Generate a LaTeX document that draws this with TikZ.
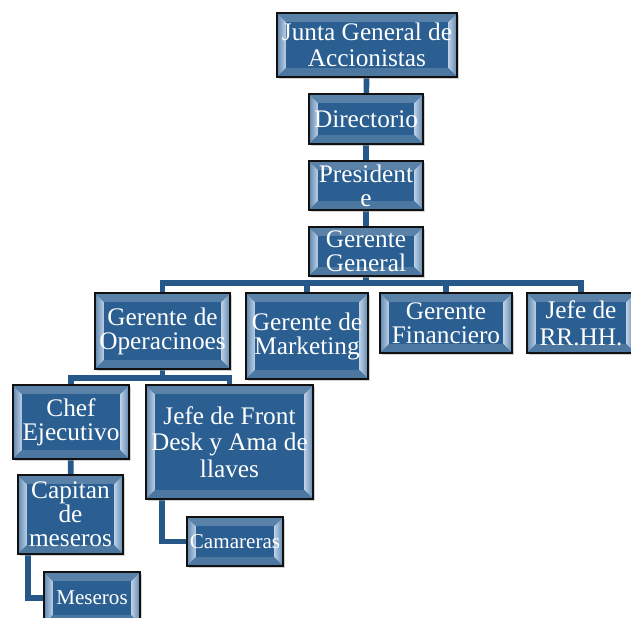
\documentclass[tikz,border=0pt]{standalone}
\usepackage{fontspec}
\setmainfont{Liberation Serif}
\usepackage{xcolor}
\definecolor{boxc}{HTML}{2B5F91}
\definecolor{bevc}{HTML}{BCD0E6}
\definecolor{conc}{HTML}{27588A}
\definecolor{edgec}{HTML}{111111}
\usetikzlibrary{calc,backgrounds,shadows}
\newcommand{\bevw}{0.22}
\tikzset{
  bevel/.style={path picture={
    \coordinate (sw) at (path picture bounding box.south west);
    \coordinate (ne) at (path picture bounding box.north east);
    \shade[left color=boxc!75!white,right color=bevc] (sw) -- ($(sw)+(\bevw,\bevw)$) -- ($(sw|-ne)+(\bevw,-\bevw)$) -- (sw|-ne) -- cycle;
    \shade[left color=bevc,right color=boxc!75!white] (ne) -- ($(ne)+(-\bevw,-\bevw)$) -- ($(ne|-sw)+(-\bevw,\bevw)$) -- (ne|-sw) -- cycle;
    \fill[boxc!78!white] (sw|-ne) -- (ne) -- ($(ne)+(-\bevw,-\bevw)$) -- ($(sw|-ne)+(\bevw,-\bevw)$) -- cycle;
    \fill[boxc!85!white] (sw) -- (ne|-sw) -- ($(ne|-sw)+(-\bevw,\bevw)$) -- ($(sw)+(\bevw,\bevw)$) -- cycle;
  }},
  unit/.style={draw=edgec,line width=1.1pt,fill=boxc,bevel,text=white,align=center,inner sep=0pt,
    font=\fontsize{18}{17}\selectfont,
    drop shadow={shadow xshift=1.5pt,shadow yshift=-1.5pt,fill=black!35}},
  sunit/.style={unit,font=\fontsize{15}{15}\selectfont},
  conn/.style={draw=conc,line width=4pt},
}

\begin{document}
\begin{tikzpicture}
  \useasboundingbox (0,0) rectangle (15.775,-15.425);
  % direccion
  \node[unit,minimum width=4.5cm,minimum height=1.6cm,font=\fontsize{18}{18.5}\selectfont] (junta) at (9.175,-1.125) {Junta General de\\Accionistas};
  \node[unit,minimum width=2.85cm,minimum height=1.25cm] (dir) at (9.15,-2.975) {Directorio};
  \node[unit,minimum width=2.85cm,minimum height=1.225cm] (pres) at (9.15,-4.6375) {President\\e};
  \node[unit,minimum width=2.85cm,minimum height=1.225cm] (gg) at (9.15,-6.2875) {Gerente\\General};
  % gerencias
  \node[unit,minimum width=3.375cm,minimum height=1.9cm] (ops) at (4.0625,-8.275) {Gerente de\\Operacinoes};
  \node[unit,minimum width=3.05cm,minimum height=2.15cm] (mkt) at (7.675,-8.4) {Gerente de\\Marketing};
  \node[unit,minimum width=3.3cm,minimum height=1.5cm] (fin) at (11.15,-8.075) {Gerente\\Financiero};
  \node[unit,minimum width=2.7cm,minimum height=1.5cm,font=\fontsize{18}{19}\selectfont] (rrhh) at (14.525,-8.075) {Jefe de\\RR.HH.};
  % operaciones
  \node[unit,minimum width=2.9cm,minimum height=1.85cm] (chef) at (1.775,-10.55) {Chef\\Ejecutivo};
  \node[unit,minimum width=4.175cm,minimum height=2.85cm,font=\fontsize{18}{19}\selectfont] (front) at (5.7375,-11.05) {Jefe de Front\\Desk y Ama de\\llaves};
  \node[unit,minimum width=2.625cm,minimum height=1.975cm] (cap) at (1.7625,-12.8625) {Capitan\\de\\meseros};
  \node[sunit,minimum width=2.4cm,minimum height=1.3cm] (mes) at (2.3,-14.95) {Meseros};
  \node[sunit,minimum width=2.4cm,minimum height=1.225cm] (cam) at (5.875,-13.5375) {Camareras};
  \coordinate (bar1) at (9.15,-7.075);
  \coordinate (bar2) at (4.0625,-9.45);
  % conectores
  \begin{scope}[on background layer]
    \draw[conn] (junta) -- (dir);
    \draw[conn] (dir) -- (pres);
    \draw[conn] (pres) -- (gg);
    \draw[conn] (gg) -- (bar1);
    \foreach \n in {ops,mkt,fin,rrhh} \draw[conn] (bar1) -| (\n);
    \draw[conn] (ops) -- (bar2);
    \foreach \n in {chef,front} \draw[conn] (bar2) -| (\n);
    \draw[conn] (chef) -- (cap);
    \draw[conn] ([xshift=0.275cm]cap.south west) |- (mes);
    \draw[conn] ([xshift=0.425cm]front.south west) |- (cam);
  \end{scope}
\end{tikzpicture}
\end{document}
